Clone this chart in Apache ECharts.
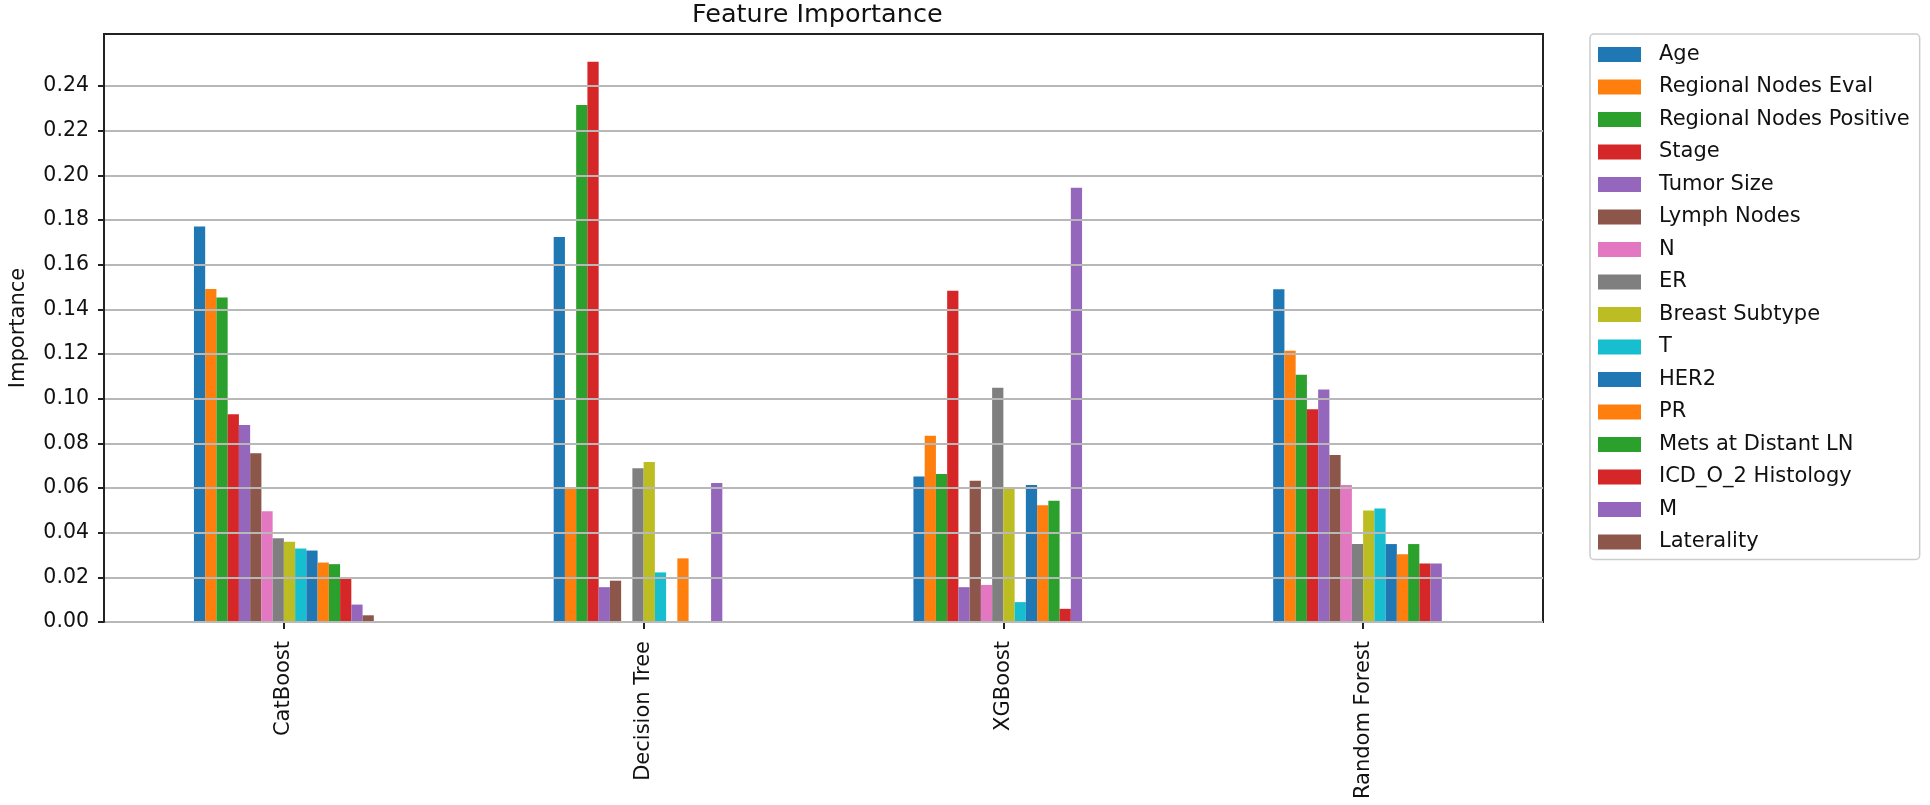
<!DOCTYPE html>
<html>
<head>
<meta charset="utf-8">
<script src="https://cdn.jsdelivr.net/npm/echarts@6/dist/echarts.min.js"></script>
<style>
html,body{margin:0;padding:0;background:#fff;}
#chart{width:1930px;height:805px;}
</style>
</head>
<body>
<div id="chart"></div>
<script>
const models = ['CatBoost', 'Decision Tree', 'XGBoost', 'Random Forest'];
const features = ['Age', 'Regional Nodes Eval', 'Regional Nodes Positive', 'Stage', 'Tumor Size',
  'Lymph Nodes', 'N', 'ER', 'Breast Subtype', 'T', 'HER2', 'PR', 'Mets at Distant LN',
  'ICD_O_2 Histology', 'M', 'Laterality'];
const catBoost     = [0.1771, 0.1491, 0.1453, 0.0930, 0.0882, 0.0756, 0.0496, 0.0375, 0.0359, 0.0329, 0.0320, 0.0266, 0.0259, 0.0196, 0.0078, 0.0030];
const decisionTree = [0.1724, 0.0600, 0.2315, 0.2509, 0.0156, 0.0185, 0, 0.0688, 0.0717, 0.0222, 0, 0.0285, 0, 0, 0.0622, 0];
const xgBoost      = [0.0651, 0.0834, 0.0663, 0.1483, 0.0156, 0.0632, 0.0166, 0.1049, 0.0599, 0.0089, 0.0614, 0.0523, 0.0543, 0.0059, 0.1945, 0];
const randomForest = [0.1490, 0.1215, 0.1107, 0.0953, 0.1041, 0.0748, 0.0613, 0.0349, 0.0499, 0.0508, 0.0349, 0.0303, 0.0349, 0.0262, 0.0262, 0];
const yTicks = [0.00, 0.02, 0.04, 0.06, 0.08, 0.10, 0.12, 0.14, 0.16, 0.18, 0.20, 0.22, 0.24];
const yMax = 0.2633;
const palette = ['#1f77b4', '#ff7f0e', '#2ca02c', '#d62728', '#9467bd', '#8c564b', '#e377c2', '#7f7f7f', '#bcbd22', '#17becf'];

const modelValues = [catBoost, decisionTree, xgBoost, randomForest];
const FONT = '"DejaVu Sans", sans-serif';
const TXT = '#111';

const series = features.map((f, i) => ({
  name: f,
  type: 'bar',
  data: modelValues.map(arr => arr[i]),
  itemStyle: { color: palette[i % palette.length] },
  barGap: '0%',
  barCategoryGap: '50%',
  animation: false
}));

const chart = echarts.init(document.getElementById('chart'), null, { renderer: 'canvas' });
chart.setOption({
  animation: false,
  backgroundColor: '#ffffff',
  textStyle: { fontFamily: FONT },
  title: {
    text: 'Feature Importance',
    left: 692,
    top: 2,
    padding: 0,
    textStyle: { fontFamily: FONT, fontSize: 25.5, fontWeight: 'normal', color: TXT }
  },
  grid: {
    left: 97, right: 387, top: 34, bottom: 183,
    show: true, borderColor: '#222', borderWidth: 2, backgroundColor: 'transparent'
  },
  legend: {
    orient: 'vertical',
    left: 1590,
    top: 34,
    padding: [10, 10, 7, 8],
    itemWidth: 43,
    itemHeight: 15,
    itemGap: 11.5,
    icon: 'rect',
    backgroundColor: '#ffffff',
    borderColor: '#cccccc',
    borderWidth: 1.5,
    borderRadius: 4,
    textStyle: { fontFamily: FONT, fontSize: 21, lineHeight: 21, color: TXT, padding: [0, 0, 0, 13] },
    data: features
  },
  xAxis: {
    type: 'category',
    data: models,
    axisLine: { show: true, lineStyle: { color: '#222', width: 2 } },
    axisTick: { show: true, alignWithLabel: true, length: 7, lineStyle: { color: '#222', width: 2 } },
    axisLabel: { rotate: 90, margin: 19, fontFamily: FONT, fontSize: 21, color: TXT },
    splitLine: { show: false }
  },
  yAxis: {
    type: 'value',
    min: 0,
    max: yMax,
    interval: 0.02,
    z: 5,
    name: 'Importance',
    nameLocation: 'middle',
    nameGap: 75,
    nameTextStyle: { fontFamily: FONT, fontSize: 21, color: TXT },
    axisLine: { show: true, lineStyle: { color: '#222', width: 2 } },
    axisTick: { show: true, length: 6, customValues: yTicks, lineStyle: { color: '#222', width: 2 } },
    axisLabel: {
      customValues: yTicks,
      margin: 15,
      fontFamily: FONT, fontSize: 20.5, color: TXT,
      formatter: v => v.toFixed(2)
    },
    splitLine: { show: true, lineStyle: { color: '#b8b8b8', width: 2 } }
  },
  series: series
});
</script>
</body>
</html>
